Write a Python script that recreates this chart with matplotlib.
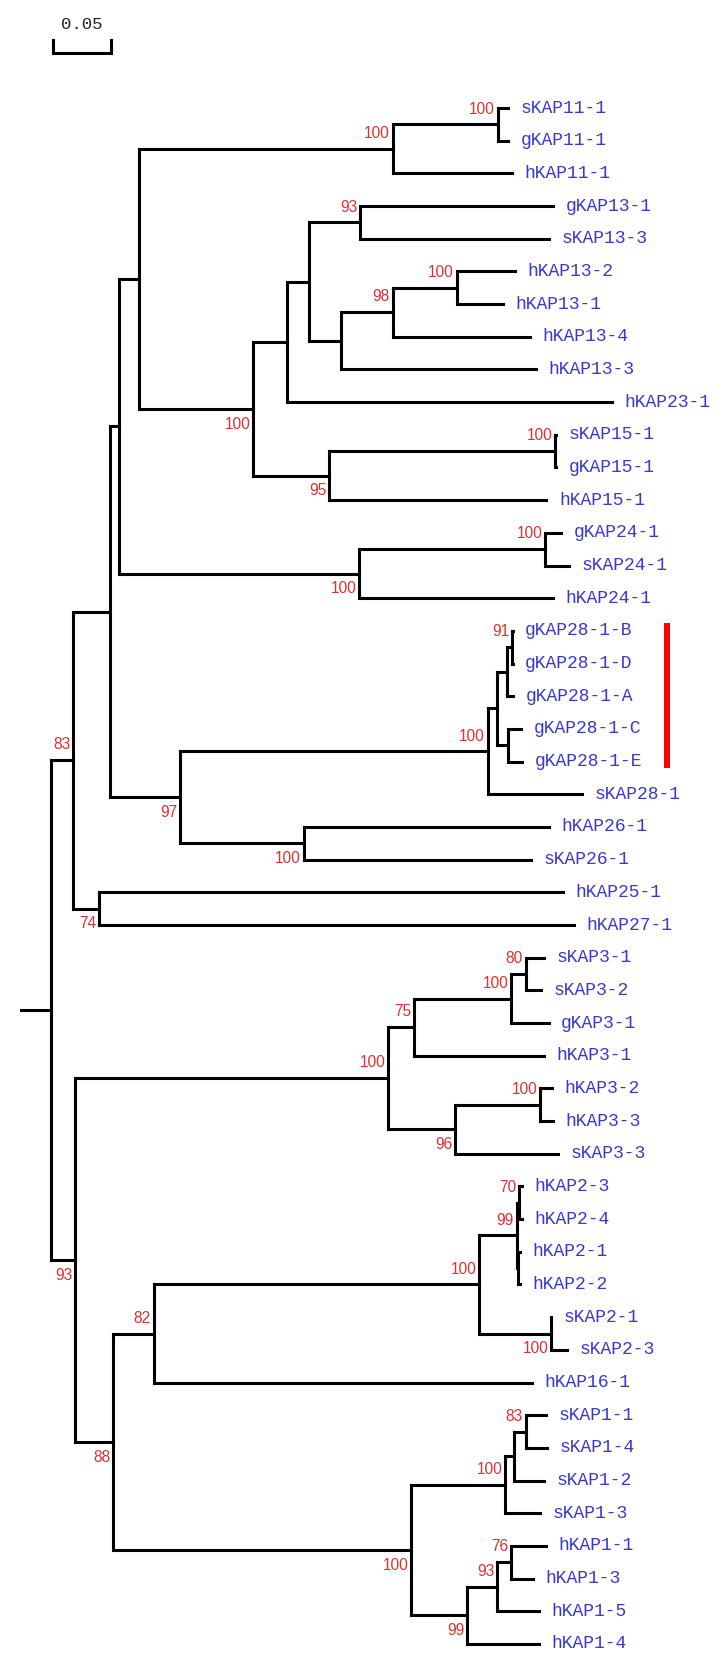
import matplotlib
matplotlib.use("Agg")
import matplotlib.pyplot as plt
from matplotlib.collections import LineCollection


# Data
# tree as parent links; parents come before children, children in drawing order
nodes = ['R', 'A', 'B', 'C', 'D',
         'E', 'F', 'sKAP11-1', 'gKAP11-1', 'hKAP11-1',
         'G', 'AN', 'AP', 'AQ', 'gKAP13-1', 'sKAP13-3',
         'AR', 'AS', 'AT', 'hKAP13-2', 'hKAP13-1', 'hKAP13-4', 'hKAP13-3', 'hKAP23-1',
         'AO', 'AU', 'sKAP15-1', 'gKAP15-1', 'hKAP15-1',
         'H', 'I', 'gKAP24-1', 'sKAP24-1', 'hKAP24-1',
         'J', 'K', 'AJ', 'AK', 'AM', 'gKAP28-1-B', 'gKAP28-1-D', 'gKAP28-1-A',
         'AL', 'gKAP28-1-C', 'gKAP28-1-E', 'sKAP28-1',
         'L', 'hKAP26-1', 'sKAP26-1',
         'M', 'hKAP25-1', 'hKAP27-1',
         'N', 'O', 'Q', 'S', 'T', 'sKAP3-1', 'sKAP3-2', 'gKAP3-1', 'hKAP3-1',
         'U', 'V', 'hKAP3-2', 'hKAP3-3', 'sKAP3-3',
         'P', 'W', 'Y', 'Z', 'AB', 'hKAP2-3', 'hKAP2-4', 'AC', 'hKAP2-1', 'hKAP2-2',
         'AA', 'sKAP2-1', 'sKAP2-3', 'hKAP16-1',
         'X', 'AD', 'AE', 'AF', 'sKAP1-1', 'sKAP1-4', 'sKAP1-2', 'sKAP1-3',
         'AG', 'AH', 'AI', 'hKAP1-1', 'hKAP1-3', 'hKAP1-5', 'hKAP1-4']

parents = [None, 'R', 'A', 'B', 'C',
           'D', 'E', 'F', 'F', 'E',
           'D', 'G', 'AN', 'AP', 'AQ', 'AQ',
           'AP', 'AR', 'AS', 'AT', 'AT', 'AS', 'AR', 'AN',
           'G', 'AO', 'AU', 'AU', 'AO',
           'C', 'H', 'I', 'I', 'H',
           'B', 'J', 'K', 'AJ', 'AK', 'AM', 'AM', 'AK',
           'AJ', 'AL', 'AL', 'K',
           'J', 'L', 'L',
           'A', 'M', 'M',
           'R', 'N', 'O', 'Q', 'S', 'T', 'T', 'S', 'Q',
           'O', 'U', 'V', 'V', 'U',
           'N', 'P', 'W', 'Y', 'Z', 'AB', 'AB', 'Z', 'AC', 'AC',
           'Y', 'AA', 'AA', 'W',
           'P', 'X', 'AD', 'AE', 'AF', 'AF', 'AE', 'AD',
           'X', 'AG', 'AH', 'AI', 'AI', 'AH', 'AG']

branch_len = [0.026, 0.0190, 0.0315, 0.0082, 0.0169,
              0.2190, 0.0904, 0.0091, 0.0091, 0.1029,
              0.0986, 0.0296, 0.0183, 0.0447, 0.1660, 0.1624,
              0.0275, 0.0450, 0.0550, 0.0505, 0.0397, 0.1183, 0.1684, 0.2799,
              0.0654, 0.1951, 0.0007, 0.0007, 0.1875,
              0.2069, 0.1603, 0.0138, 0.0207, 0.1672,
              0.0608, 0.2651, 0.0084, 0.0081, 0.0043, 0.0007, 0.0007, 0.0052,
              0.0090, 0.0112, 0.0123, 0.0810,
              0.1065, 0.2116, 0.1961,
              0.0227, 0.3994, 0.4090,
              0.0209, 0.2696, 0.0224, 0.0836, 0.0126, 0.0155, 0.0135, 0.0325, 0.1117,
              0.0578, 0.0736, 0.0100, 0.0109, 0.0888,
              0.0325, 0.0352, 0.2807, 0.0322, 0.0020, 0.0022, 0.0022, 0.0011, 0.0013, 0.0017,
              0.0617, 0.0004, 0.0135, 0.3260,
              0.2569, 0.0810, 0.0078, 0.0100, 0.0176, 0.0184, 0.0255, 0.0305,
              0.0486, 0.0259, 0.0119, 0.0299, 0.0184, 0.0358, 0.0617]

# bootstrap values on internal nodes
support = {'E': 100, 'F': 100, 'AQ': 93, 'AT': 100, 'AS': 98, 'G': 100,
           'AU': 100, 'AO': 95, 'I': 100, 'H': 100, 'AM': 91, 'K': 100,
           'A': 83, 'J': 97, 'L': 100, 'M': 74, 'T': 80, 'S': 100, 'Q': 75,
           'O': 100, 'V': 100, 'U': 96, 'AB': 70, 'Z': 99, 'Y': 100, 'AA': 100,
           'N': 93, 'W': 82, 'P': 88, 'AF': 83, 'AD': 100, 'X': 100,
           'AI': 76, 'AH': 93, 'AG': 99}

# which nodes have the bootstrap value below the node (others above)
below = ['G', 'AO', 'H', 'J', 'L', 'M', 'U', 'AA', 'N', 'P', 'X', 'AG']

marked_clade = ['gKAP28-1-B', 'gKAP28-1-D', 'gKAP28-1-A', 'gKAP28-1-C', 'gKAP28-1-E']
scale_len = 0.05


# Layout
children = {n: [] for n in nodes}
for n, p in zip(nodes, parents):
    if p is not None:
        children[p].append(n)

depth = {}
for n, p, bl in zip(nodes, parents, branch_len):
    depth[n] = 0.0 if p is None else depth[p] + bl

ypos = {}
leaves = []

def place(n):
    if not children[n]:
        ypos[n] = len(leaves)
        leaves.append(n)
    else:
        for c in children[n]:
            place(c)
        ypos[n] = (ypos[children[n][0]] + ypos[children[n][-1]]) / 2

place('R')

# px scale of the original picture: 1160 px per unit, leaves every 32.68 px
PX = 1160.0
ROW = 32.68
x0_px, y0_px = 51, 108


# Plotting
fig = plt.figure(figsize=(7.25, 16.66), dpi=100)
ax = fig.add_axes([0, 0, 1, 1])
ax.set_xlim(-x0_px / PX, (725 - x0_px) / PX)
ax.set_ylim((1666 - y0_px) / ROW, -y0_px / ROW)
ax.axis('off')

segs = []
for n, p, bl in zip(nodes, parents, branch_len):
    if p is None:
        segs.append([(-bl, ypos[n]), (0, ypos[n])])
    else:
        segs.append([(depth[p], ypos[n]), (depth[n], ypos[n])])
    if children[n]:
        segs.append([(depth[n], ypos[children[n][0]]), (depth[n], ypos[children[n][-1]])])

ax.add_collection(LineCollection(segs, colors='black', linewidths=2.2, capstyle='projecting'))

for leaf in leaves:
    ax.annotate(leaf, (depth[leaf], ypos[leaf]), xytext=(9, 0), textcoords='offset points',
                ha='left', va='center', fontsize=13, family='Liberation Mono', color='#3838cf')

for n, val in support.items():
    dy = 11 if n in below else -11
    ax.annotate(str(val), (depth[n], ypos[n]), xytext=(-2, -dy), textcoords='offset points',
                ha='right', va='center', fontsize=11.2, family='Liberation Sans', color='#e03030')

# red bar next to the gKAP28 copies
bar_x = (667 - x0_px) / PX
ax.plot([bar_x, bar_x], [ypos[marked_clade[0]] - 0.25, ypos[marked_clade[-1]] + 0.2],
        color='red', lw=4.3, solid_capstyle='butt')

# scale bar
sx = (53 - x0_px) / PX
sy = (53 - y0_px) / ROW
ax.plot([sx, sx, sx + scale_len, sx + scale_len], [sy - 0.4, sy, sy, sy - 0.4],
        color='black', lw=2.2, solid_joinstyle='miter')
ax.text(sx + scale_len / 2, (24 - y0_px) / ROW, f'{scale_len:.2f}', ha='center', va='center',
        fontsize=12.5, family='Liberation Mono', color='#222222')

fig.savefig('out.png', dpi=100)
